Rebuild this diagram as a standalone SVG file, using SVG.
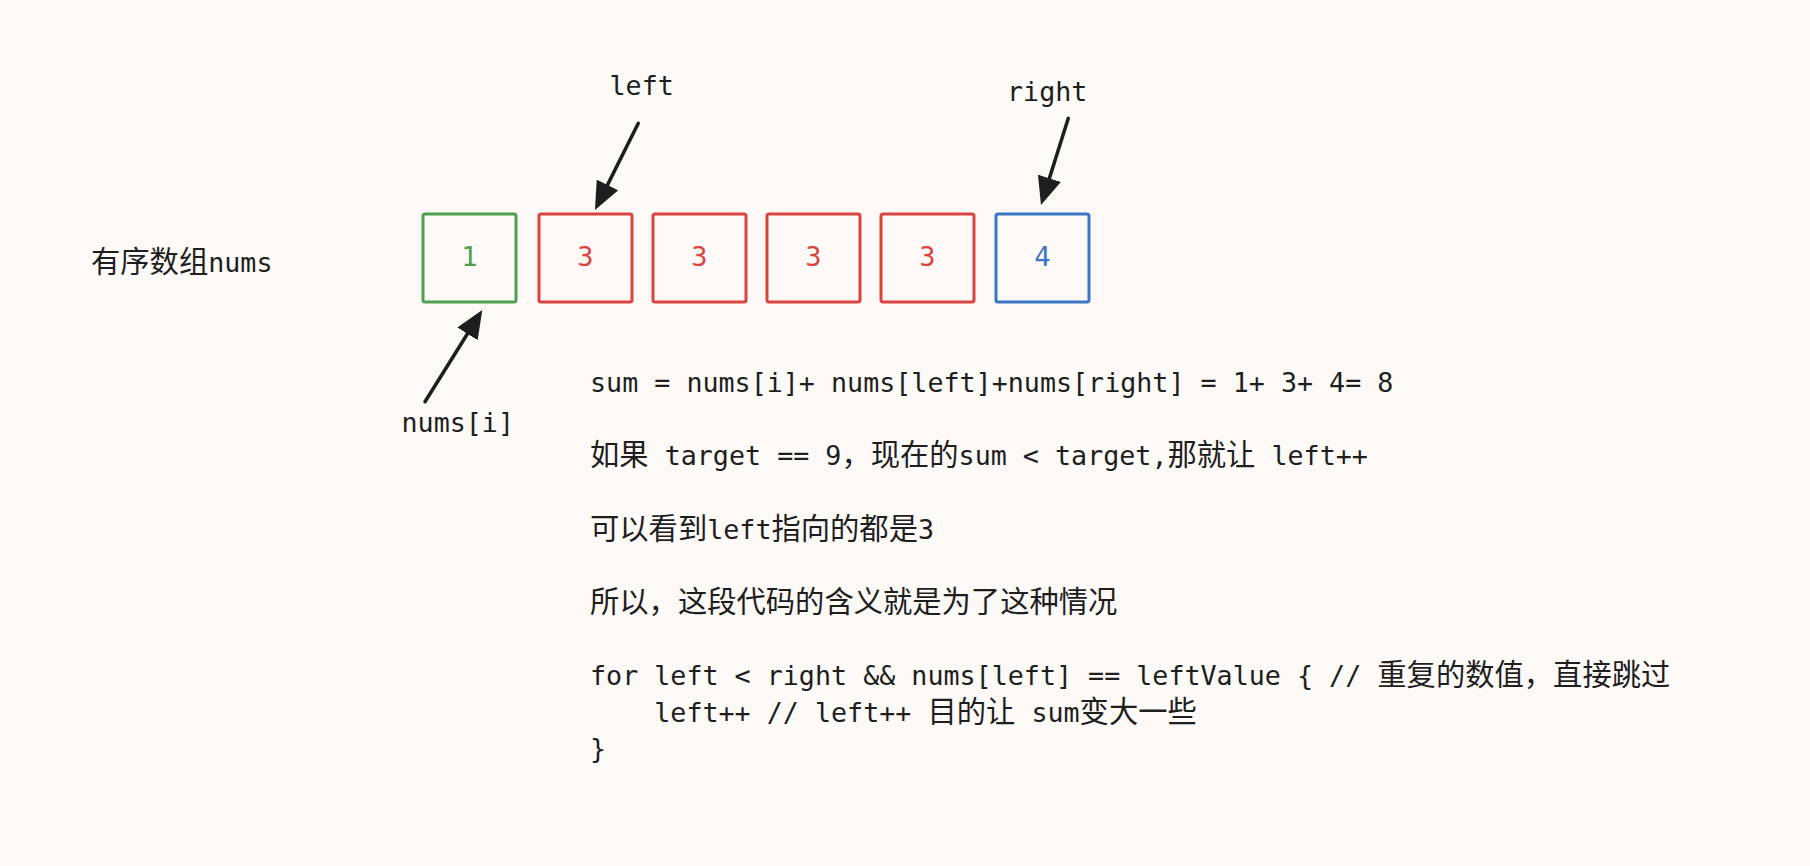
<svg xmlns="http://www.w3.org/2000/svg" width="1810" height="866" viewBox="0 0 1810 866">
<style>
.t{font-family:"DejaVu Sans Mono","Noto Sans CJK SC",monospace;font-size:26.7px;fill:#1e1e1e}
.cj{font-family:"Noto Sans CJK SC",sans-serif;font-size:29.3px}
.box{fill:none;stroke-width:3}
.num{font-family:"DejaVu Sans Mono",monospace;font-size:27px;text-anchor:middle}
.g{stroke:#4f9f4f}.gt{fill:#4f9f4f}
.r{stroke:#d94340}.rt{fill:#d94340}
.b{stroke:#3a76c4}.bt{fill:#3a76c4}
.arr{stroke:#1e1e1e;stroke-width:3.5;stroke-linecap:round;fill:none;marker-end:url(#ah)}
</style>
<defs>
<marker id="ah" viewBox="0 0 28 24" refX="8" refY="12" markerWidth="28" markerHeight="24" markerUnits="userSpaceOnUse" orient="auto">
<path d="M0,0 L28,12 L0,24 Z" fill="#1e1e1e"/>
</marker>
</defs>
<rect width="1810" height="866" fill="#fcf9f7"/>
<g id="label-array"><text class="t" x="91" y="271.7"><tspan class="cj">有序数组</tspan>nums</text></g>
<g id="cell-0"><rect class="box g" x="423" y="214" width="93" height="88" rx="2"/><text class="num gt" x="469.5" y="266">1</text></g>
<g id="cell-1"><rect class="box r" x="539" y="214" width="93" height="88" rx="2"/><text class="num rt" x="585.5" y="266">3</text></g>
<g id="cell-2"><rect class="box r" x="653" y="214" width="93" height="88" rx="2"/><text class="num rt" x="699.5" y="266">3</text></g>
<g id="cell-3"><rect class="box r" x="767" y="214" width="93" height="88" rx="2"/><text class="num rt" x="813.5" y="266">3</text></g>
<g id="cell-4"><rect class="box r" x="881" y="214" width="93" height="88" rx="2"/><text class="num rt" x="927.5" y="266">3</text></g>
<g id="cell-5"><rect class="box b" x="996" y="214" width="93" height="88" rx="2"/><text class="num bt" x="1042.5" y="266">4</text></g>
<g id="label-left"><text class="t" x="609.5" y="94.5">left</text></g>
<g id="label-right"><text class="t" x="1007" y="101">right</text></g>
<g id="label-numsi"><text class="t" x="401.5" y="431.7">nums[i]</text></g>
<g id="connectors">
<line class="arr" x1="638.3" y1="123.3" x2="603.9" y2="192.1"/>
<line class="arr" x1="1068.3" y1="118.3" x2="1047" y2="185.9"/>
<line class="arr" x1="425" y1="401.7" x2="471.7" y2="327"/>
</g>
<g id="explanation">
<text class="t" x="590" y="391.7">sum = nums[i]+ nums[left]+nums[right] = 1+ 3+ 4= 8</text>
<text class="t" x="590" y="465"><tspan class="cj">如果</tspan> target == 9<tspan class="cj">，现在的</tspan>sum &lt; target,<tspan class="cj">那就让</tspan> left++</text>
<text class="t" x="590" y="538.5"><tspan class="cj">可以看到</tspan>left<tspan class="cj">指向的都是</tspan>3</text>
<text class="t" x="590" y="612"><tspan class="cj">所以，这段代码的含义就是为了这种情况</tspan></text>
<text class="t" x="590" y="685" xml:space="preserve">for left &lt; right &amp;&amp; nums[left] == leftValue { // <tspan class="cj">重复的数值，直接跳过</tspan></text>
<text class="t" x="590" y="722" xml:space="preserve">    left++ // left++ <tspan class="cj">目的让</tspan> sum<tspan class="cj">变大一些</tspan></text>
<text class="t" x="590" y="758">}</text>
</g>
</svg>
